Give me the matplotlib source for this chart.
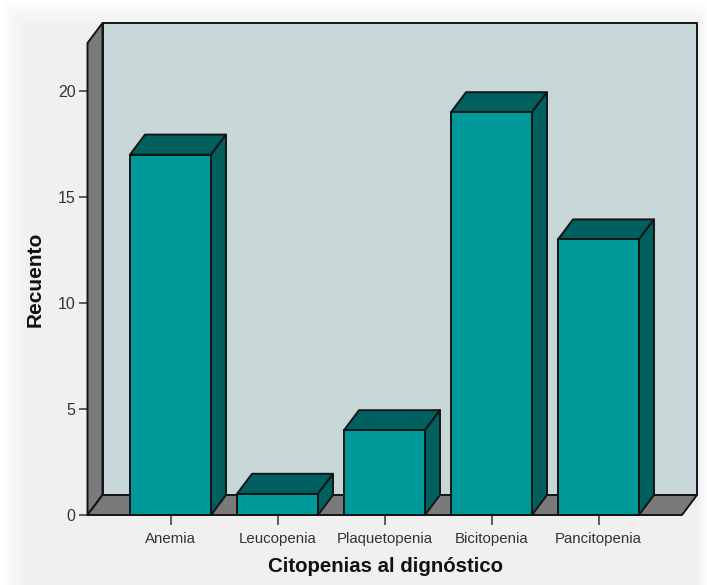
import numpy as np
import matplotlib
matplotlib.use('Agg')
import matplotlib.pyplot as plt
from matplotlib.patches import Polygon

categories = ['Anemia', 'Leucopenia', 'Plaquetopenia', 'Bicitopenia', 'Pancitopenia']
counts = [17, 1, 4, 19, 13]
y_ticks = [0, 5, 10, 15, 20]

W, H = 707, 585
FRONT = '#009999'
DARK = '#005f5f'
WALL = '#c7d6d6'
SIDE = '#7a7a7a'
EDGE = '#141414'
LW = 1.4

plt.rcParams['font.family'] = ['Liberation Sans', 'DejaVu Sans']

fig = plt.figure(figsize=(W / 100, H / 100), dpi=100)

# soft pale background, white towards the top and left edges
bg = fig.add_axes([0, 0, 1, 1], zorder=0)
xx, yy = np.meshgrid(np.arange(W), np.arange(H))
d = np.minimum(np.minimum(xx / 26.0, yy / 26.0), (W - 1 - xx) / 8.0)
d = np.clip(d, 0, 1)
shade = 1.0 - (1.0 - 0.94) * d ** 0.8
bg.imshow(shade, cmap='gray', vmin=0, vmax=1, aspect='auto', interpolation='bilinear')
bg.axis('off')

# axes box is the front floor edge, 87.5..682 px across, 515..43 px up
ax = fig.add_axes([87.5 / W, 1 - 515 / H, (682 - 87.5) / W, (515 - 43) / H], zorder=1)
ax.patch.set_alpha(0)
px_x = 107.0
px_y = 21.2
ax.set_xlim((87.5 - 170.5) / px_x, (682 - 170.5) / px_x)
ax.set_ylim(0, (515 - 43) / px_y)
dx = 15 / px_x
dy = 20 / px_y
bar_w = 81 / px_x

x0, x1 = ax.get_xlim()
y0, y1 = ax.get_ylim()


def poly(points, color, z):
    ax.add_patch(Polygon(points, closed=True, facecolor=color, edgecolor=EDGE,
                         linewidth=LW, joinstyle='round', clip_on=False, zorder=z))


# back wall, left wall, floor
poly([(x0 + dx, y0 + dy), (x1 + dx, y0 + dy), (x1 + dx, y1 + dy), (x0 + dx, y1 + dy)], WALL, 1)
poly([(x0, y0), (x0 + dx, y0 + dy), (x0 + dx, y1 + dy), (x0, y1)], SIDE, 2)
poly([(x0, y0), (x1, y0), (x1 + dx, y0 + dy), (x0 + dx, y0 + dy)], SIDE, 2)

# 3d bars, left to right
for i, v in enumerate(counts):
    l = i - bar_w / 2
    r = i + bar_w / 2
    poly([(l, v), (r, v), (r + dx, v + dy), (l + dx, v + dy)], DARK, 3)
    poly([(r, 0), (r + dx, dy), (r + dx, v + dy), (r, v)], DARK, 3)
    ax.bar(i, v, width=bar_w, color=FRONT, edgecolor=EDGE, linewidth=LW, zorder=4, clip_on=False)

for s in ax.spines.values():
    s.set_visible(False)

ax.set_xticks(range(len(categories)))
ax.set_xticklabels(categories, fontsize=10.8, color='#333333')
ax.set_yticks(y_ticks)
ax.set_yticklabels([str(t) for t in y_ticks], fontsize=11.5, color='#333333')
ax.tick_params(axis='x', length=7, width=1.1, color='#333333', pad=5)
ax.tick_params(axis='y', length=6.5, width=1.1, color='#333333', pad=2)

ax.set_xlabel('Citopenias al dignóstico', fontsize=14.7, fontweight='bold', color='#111111')
ax.set_ylabel('Recuento', fontsize=15, fontweight='bold', color='#111111')
ax.xaxis.set_label_coords((385 - 87.5) / (682 - 87.5), -(567 - 515) / (515 - 43))
ax.xaxis.label.set_verticalalignment('center')
ax.yaxis.set_label_coords(-(87.5 - 35.5) / (682 - 87.5), (515 - 279.5) / (515 - 43))
ax.yaxis.label.set_verticalalignment('center')

fig.savefig('out.png', dpi=100)
